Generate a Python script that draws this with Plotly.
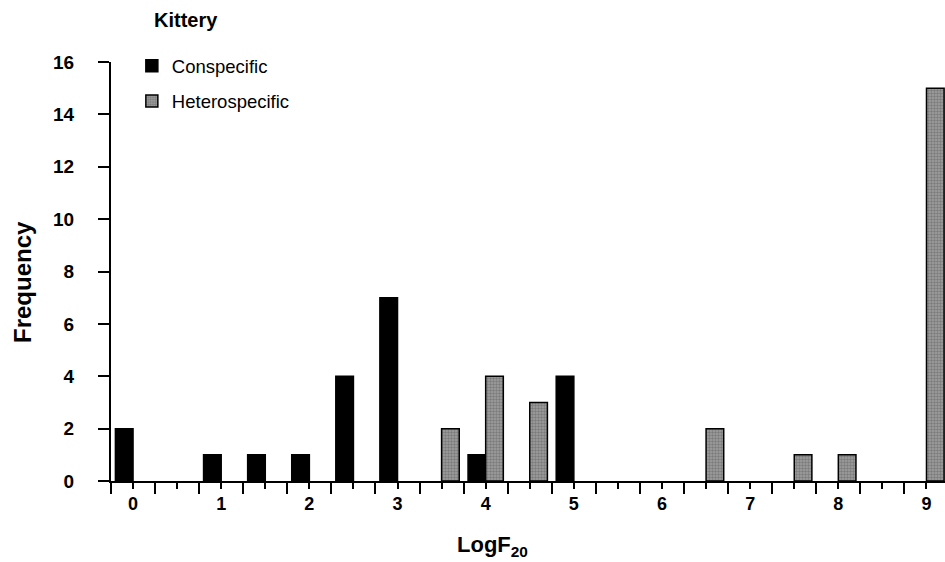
import plotly.graph_objects as go

# Histogram bins (bin centers, width 0.5)
bin_centers = [i * 0.5 for i in range(19)]  # 0.0 .. 9.0
conspecific = [2, 0, 1, 1, 1, 4, 7, 0, 1, 0, 4, 0, 0, 0, 0, 0, 0, 0, 0]
heterospecific = [0, 0, 0, 0, 0, 0, 0, 2, 4, 3, 0, 0, 0, 2, 0, 1, 1, 0, 15]

x_label_vals = list(range(0, 10))
x_label_text = [str(v) for v in x_label_vals]
x_edge_vals = [v - 0.25 for v in bin_centers] + [9.25]
y_tick_vals = list(range(0, 17, 2))

FONT = "Liberation Sans, Arial, sans-serif"
X_RANGE = [-0.25, 9.21]


def nonzero(xs, ys):
    pairs = [(x, y) for x, y in zip(xs, ys) if y > 0]
    return [p[0] for p in pairs], [p[1] for p in pairs]


cx, cy = nonzero(bin_centers, conspecific)
hx, hy = nonzero(bin_centers, heterospecific)

fig = go.Figure()
fig.add_trace(go.Bar(
    x=cx, y=cy, name="Conspecific", legendgroup="c",
    width=0.2, offset=-0.2,
    marker=dict(color="black", line=dict(color="black", width=1.5)),
))
fig.add_trace(go.Bar(
    x=hx, y=hy, name="Heterospecific", legendgroup="h",
    width=0.2, offset=0.0,
    marker=dict(color="#a0a0a0", line=dict(color="black", width=1.5),
                pattern=dict(shape=".", fgcolor="#555555", bgcolor="#a0a0a0",
                             size=3, solidity=0.5)),
))
# invisible trace to carry the labelled overlay axis
fig.add_trace(go.Scatter(x=x_label_vals, y=[0] * len(x_label_vals),
                         xaxis="x2", yaxis="y", mode="markers",
                         marker=dict(opacity=0), showlegend=False,
                         hoverinfo="skip"))

fig.update_layout(
    width=945, height=562,
    margin=dict(l=111, r=0, t=62, b=81),
    plot_bgcolor="white", paper_bgcolor="white",
    showlegend=True,
    legend=dict(x=0.025, y=1.035, xanchor="left", yanchor="top",
                font=dict(family=FONT, size=18.5, color="black"),
                bgcolor="rgba(0,0,0,0)", tracegroupgap=8,
                traceorder="grouped"),
    xaxis=dict(
        range=X_RANGE, showline=True, linecolor="black", linewidth=2,
        showgrid=False, zeroline=False,
        tickmode="array", tickvals=bin_centers, showticklabels=False,
        ticks="outside", ticklen=6, tickwidth=2, tickcolor="black",
        minor=dict(tickmode="array", tickvals=x_edge_vals, ticks="outside",
                   ticklen=11, tickwidth=2, tickcolor="black", showgrid=False),
    ),
    xaxis2=dict(
        range=X_RANGE, overlaying="x", anchor="y", side="bottom",
        showline=False, showgrid=False, zeroline=False,
        tickmode="array", tickvals=x_label_vals, ticktext=x_label_text,
        ticks="outside", ticklen=6, tickcolor="rgba(0,0,0,0)",
        tickfont=dict(family=FONT, size=18, color="black", weight="bold"),
    ),
    yaxis=dict(
        range=[0, 16], showline=True, linecolor="black", linewidth=2,
        showgrid=False, zeroline=False,
        tickmode="array", tickvals=y_tick_vals,
        ticks="outside", ticklen=11, tickwidth=2, tickcolor="black",
        ticklabelstandoff=20,
        tickfont=dict(family=FONT, size=19, color="black", weight="bold"),
    ),
    annotations=[
        dict(text="<b>Kittery</b>", xref="paper", yref="paper",
             x=(152 - 111) / 834, y=1 + (62 - 20) / 419, xanchor="left",
             yanchor="middle", showarrow=False,
             font=dict(family=FONT, size=20, color="black")),
        dict(text="<b>Frequency</b>", xref="paper", yref="paper",
             x=(22 - 111) / 834, y=(481 - 282) / 419, xanchor="center",
             yanchor="middle", textangle=-90, showarrow=False,
             font=dict(family=FONT, size=24, color="black")),
        dict(text="<b>LogF<sub>20</sub></b>", xref="paper", yref="paper",
             x=(492 - 111) / 834, y=-(546 - 481) / 419, xanchor="center",
             yanchor="middle", showarrow=False,
             font=dict(family=FONT, size=22, color="black")),
    ],
)

fig.write_html("out.html",
               config={"displayModeBar": False},
               post_script="document.body.style.margin='0px';"
                           "document.body.style.overflow='hidden';")
